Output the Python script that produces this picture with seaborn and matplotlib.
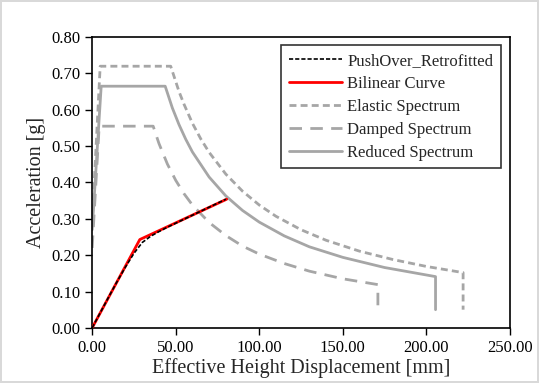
import matplotlib
matplotlib.use("Agg")
import matplotlib.pyplot as plt
import seaborn as sns

# Pushover curve (retrofitted)
push_x = [0, 5, 10, 15, 20, 25, 30, 35, 40, 45, 50, 55, 60, 65, 70, 75, 80]
push_y = [0, 0.043, 0.086, 0.128, 0.168, 0.205, 0.235, 0.252, 0.265, 0.277, 0.288, 0.299, 0.31, 0.321, 0.332, 0.343, 0.354]

# Bilinear curve
bil_x = [0, 28.5, 80.5]
bil_y = [0, 0.243, 0.354]

# Elastic spectrum
el_x = [0, 4.8, 47, 52, 55, 60, 65, 70, 80, 90, 100, 110, 125, 140, 160, 180, 200, 222, 222]
el_y = [0.29, 0.72, 0.72, 0.65, 0.615, 0.563, 0.52, 0.483, 0.423, 0.376, 0.338, 0.307,
        0.27, 0.241, 0.211, 0.188, 0.169, 0.152, 0.05]

# Damped spectrum
dm_x = [0, 4.2, 36.5, 40, 45, 50, 55, 60, 70, 80, 90, 100, 115, 130, 150, 171, 171]
dm_y = [0.22, 0.555, 0.555, 0.507, 0.451, 0.406, 0.369, 0.338, 0.29, 0.254, 0.225, 0.203,
        0.177, 0.156, 0.135, 0.119, 0.05]

# Reduced spectrum
rd_x = [0, 5.4, 43.7, 48, 52, 56, 60, 70, 80, 90, 100, 115, 130, 150, 175, 205.5, 205.5]
rd_y = [0.27, 0.665, 0.665, 0.605, 0.559, 0.519, 0.484, 0.415, 0.363, 0.323, 0.291, 0.253,
        0.223, 0.194, 0.166, 0.141, 0.05]

sns.set_style("white")
plt.rcParams["font.family"] = ["Liberation Serif", "DejaVu Serif"]

fig = plt.figure(figsize=(5.39, 3.83), dpi=100)
fig.patch.set_edgecolor("#d9d9d9")
fig.patch.set_linewidth(1.5)
ax = fig.add_axes([0.171, 0.144, 0.775, 0.759])

gray = "#a6a6a6"
sns.lineplot(x=el_x, y=el_y, sort=False, estimator=None, ax=ax, color=gray,
             linewidth=2, linestyle=(0, (2.5, 1.5)), label="Elastic Spectrum", zorder=2)
sns.lineplot(x=dm_x, y=dm_y, sort=False, estimator=None, ax=ax, color=gray,
             linewidth=2, linestyle=(0, (4.5, 3)), label="Damped Spectrum", zorder=2)
sns.lineplot(x=rd_x, y=rd_y, sort=False, estimator=None, ax=ax, color=gray,
             linewidth=2, label="Reduced Spectrum", zorder=2)
sns.lineplot(x=bil_x, y=bil_y, sort=False, estimator=None, ax=ax, color="red",
             linewidth=2, label="Bilinear Curve", zorder=3)
sns.lineplot(x=push_x, y=push_y, sort=False, estimator=None, ax=ax, color="black",
             linewidth=1.2, linestyle=(0, (2.5, 1.2)), label="PushOver_Retrofitted", zorder=4)

ax.set_xlim(0, 250)
ax.set_ylim(0, 0.8)
ax.set_xticks([0, 50, 100, 150, 200, 250])
ax.set_yticks([0, 0.1, 0.2, 0.3, 0.4, 0.5, 0.6, 0.7, 0.8])
ax.xaxis.set_major_formatter(matplotlib.ticker.FormatStrFormatter("%.2f"))
ax.yaxis.set_major_formatter(matplotlib.ticker.FormatStrFormatter("%.2f"))
ax.tick_params(direction="out", length=5, width=1, labelsize=12, colors="black")
ax.tick_params(axis="x", bottom=True)
ax.tick_params(axis="y", left=True)
for s in ax.spines.values():
    s.set_color("black")
    s.set_linewidth(1.2)

ax.set_xlabel("Effective Height Displacement [mm]", fontsize=14.5, labelpad=2)
ax.set_ylabel("Acceleration [g]", fontsize=14.5, labelpad=4)

handles, labels = ax.get_legend_handles_labels()
order = [4, 3, 0, 1, 2]
leg = ax.legend([handles[i] for i in order], [labels[i] for i in order],
                loc="upper right", fontsize=12, frameon=True, fancybox=False,
                edgecolor="black", handlelength=3.2, handletextpad=0.3, borderpad=0.45,
                labelspacing=0.42, borderaxespad=0, bbox_to_anchor=(0.978, 0.972))
leg.get_frame().set_linewidth(1.2)

fig.savefig("out.png", dpi=100)
